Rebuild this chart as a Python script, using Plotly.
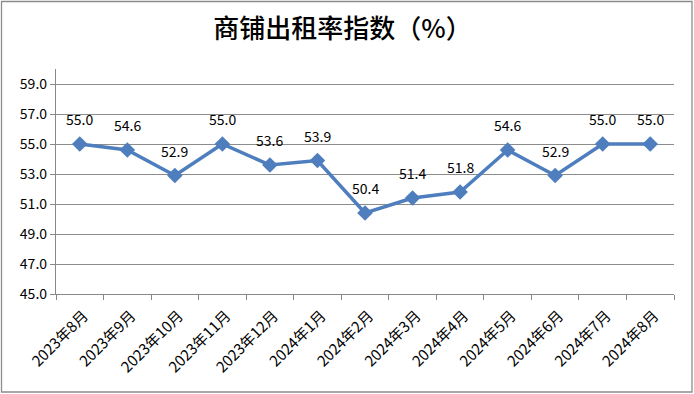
import plotly.graph_objects as go

categories = ["2023年8月", "2023年9月", "2023年10月", "2023年11月", "2023年12月",
              "2024年1月", "2024年2月", "2024年3月", "2024年4月", "2024年5月",
              "2024年6月", "2024年7月", "2024年8月"]
values = [55.0, 54.6, 52.9, 55.0, 53.6, 53.9, 50.4, 51.4, 51.8, 54.6, 52.9, 55.0, 55.0]
y_ticks = [45, 47, 49, 51, 53, 55, 57, 59]
title_text = "商铺出租率指数（%）"

FONT = "Microsoft YaHei, Noto Sans CJK SC, sans-serif"
BLUE = "#4F7EBE"

fig = go.Figure()
fig.add_trace(go.Scatter(
    x=categories, y=values, mode="lines+markers",
    line=dict(color=BLUE, width=3.5),
    marker=dict(symbol="diamond", size=12, color=BLUE),
    cliponaxis=False,
    hoverinfo="skip",
))

for c, v in zip(categories, values):
    fig.add_annotation(x=c, y=v, text=f"{v:.1f}", showarrow=False,
                       yshift=25, font=dict(family=FONT, size=14, color="#000000"))

L, R, T, B = 56, 674, 69, 294
W, H = 694, 394
pw, ph = R - L, B - T

def px_x(x):
    return (x - L) / pw

def px_y(y):
    return (B - y) / ph

fig.update_layout(
    width=W, height=H,
    margin=dict(l=L, r=W - R, t=T, b=H - B, autoexpand=False),
    paper_bgcolor="white", plot_bgcolor="white",
    showlegend=False,
    title=dict(text=title_text, x=0.4935, xanchor="center", y=1 - 29 / H, yanchor="middle",
               font=dict(family=FONT, size=26, color="#000000", weight=500)),
    xaxis=dict(
        type="category", tickson="boundaries", ticks="outside", ticklen=5,
        tickcolor="#888888", showline=True, linecolor="#888888", linewidth=1.3,
        showgrid=False, tickangle=-45, automargin=False,
        tickfont=dict(family=FONT, size=15, color="#000000"),
        ticklabelshift=4, ticklabelstandoff=6,
        range=[-0.5, len(categories) - 0.5], fixedrange=True,
    ),
    yaxis=dict(
        range=[45, 60], tickvals=y_ticks, ticktext=[f"{v:.1f}" for v in y_ticks],
        ticks="outside", ticklen=5, tickcolor="#888888", automargin=False,
        showline=True, linecolor="#888888", linewidth=1.3,
        showgrid=True, gridcolor="#8c8c8c", gridwidth=1,
        zeroline=False,
        tickfont=dict(family=FONT, size=14, color="#000000"),
        fixedrange=True,
    ),
    shapes=[dict(type="rect", xref="paper", yref="paper",
                 x0=px_x(1.5), x1=px_x(692), y0=px_y(392), y1=px_y(1.5),
                 line=dict(color="#8c8c8c", width=1.3), fillcolor="rgba(0,0,0,0)",
                 layer="above")],
)

fig.write_html("out.html", config={"displayModeBar": False},
               post_script="document.body.style.margin='0';document.body.style.overflow='hidden';")
